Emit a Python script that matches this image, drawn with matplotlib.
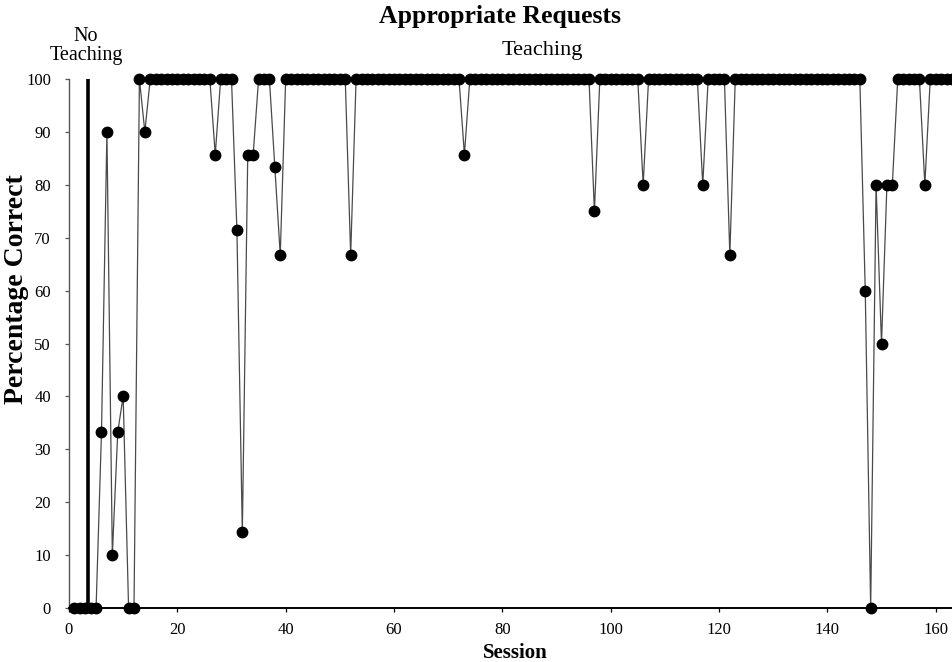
import matplotlib
matplotlib.use("Agg")
import matplotlib.pyplot as plt

plt.rcParams['font.family'] = ['Liberation Serif', 'DejaVu Serif']

# ---- data ----
baseline_sessions = [1, 2, 3]
baseline_values = [0, 0, 0]

teaching_sessions = list(range(4, 164))
teaching_values = [
    0, 0, 33.3, 90, 10, 33.3, 40, 0, 0, 100,          # 4-13
    90, 100, 100, 100, 100, 100, 100, 100, 100, 100,  # 14-23
    100, 100, 100, 85.7, 100, 100, 100, 71.4, 14.3, 85.7,  # 24-33
    85.7, 100, 100, 100, 83.3, 66.7, 100, 100, 100, 100,   # 34-43
    100, 100, 100, 100, 100, 100, 100, 100, 66.7, 100,     # 44-53
    100, 100, 100, 100, 100, 100, 100, 100, 100, 100,      # 54-63
    100, 100, 100, 100, 100, 100, 100, 100, 100, 85.7,     # 64-73
    100, 100, 100, 100, 100, 100, 100, 100, 100, 100,      # 74-83
    100, 100, 100, 100, 100, 100, 100, 100, 100, 100,      # 84-93
    100, 100, 100, 75, 100, 100, 100, 100, 100, 100,       # 94-103
    100, 100, 80, 100, 100, 100, 100, 100, 100, 100,       # 104-113
    100, 100, 100, 80, 100, 100, 100, 100, 66.7, 100,      # 114-123
    100, 100, 100, 100, 100, 100, 100, 100, 100, 100,      # 124-133
    100, 100, 100, 100, 100, 100, 100, 100, 100, 100,      # 134-143
    100, 100, 100, 60, 0, 80, 50, 80, 80, 100,             # 144-153
    100, 100, 100, 100, 80, 100, 100, 100, 100, 100,       # 154-163
]
phase_change = 3.5
x_ticks = [0, 20, 40, 60, 80, 100, 120, 140, 160]
y_ticks = [0, 10, 20, 30, 40, 50, 60, 70, 80, 90, 100]

W, H = 953, 662
fig = plt.figure(figsize=(W / 100, H / 100), dpi=100)
ax = fig.add_axes([69 / W, 54 / H, (W - 69) / W, 529 / H])

line_kw = dict(color='#4a4a4a', lw=0.9, marker='o', markersize=7.5,
               markerfacecolor='black', markeredgecolor='black', clip_on=False, zorder=3)
ax.plot(baseline_sessions, baseline_values, **line_kw)
ax.plot(teaching_sessions, teaching_values, **line_kw)

ax.plot([phase_change, phase_change], [0, 100], color='black', lw=2.6, zorder=2)

ax.set_xlim(0, 163.2)
ax.set_ylim(0, 100)
ax.set_xticks(x_ticks)
ax.set_yticks(y_ticks)

for s in ['top', 'right']:
    ax.spines[s].set_visible(False)
ax.spines['left'].set_color('#555555')
ax.spines['left'].set_linewidth(1.0)
ax.spines['bottom'].set_color('black')
ax.spines['bottom'].set_linewidth(1.4)

ax.tick_params(axis='both', direction='out', length=3, width=0.9, labelsize=12, colors='black')
ax.tick_params(axis='y', pad=10, color='#555555')
ax.tick_params(axis='x', pad=7)

ax.set_xlabel('Session', fontsize=15, fontweight='bold')
ax.xaxis.set_label_coords((515 - 69) / (W - 69), -35 / 529)
ax.set_ylabel('Percentage Correct', fontsize=20, fontweight='bold')
ax.yaxis.set_label_coords(-40 / (W - 69), (608 - 289) / 529)

fig.text(500 / W, 1 - 17 / H, 'Appropriate Requests', ha='center', va='center',
         fontsize=18.5, fontweight='bold')
fig.text(86 / W, 1 - 46 / H, 'No\nTeaching', ha='center', va='center',
         fontsize=14.5, linespacing=1.0)
fig.text(542 / W, 1 - 50 / H, 'Teaching', ha='center', va='center', fontsize=16)

fig.savefig('out.png', dpi=100)
